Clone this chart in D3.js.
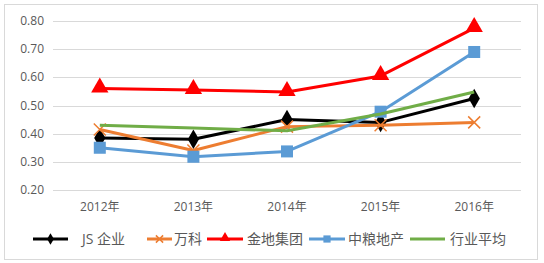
<!DOCTYPE html>
<html lang="zh">
<meta charset="utf-8">
<head>
    <script src="https://d3js.org/d3.v7.min.js"></script>
    <style type="text/css">
        body { margin: 0; background: #fff; }
        text { font-family: "Open Sans", "Noto Sans CJK SC", sans-serif; fill: #595959; }
    </style>
</head>
<body>
<div id="chart"></div>
<script>
var years = ["2012年", "2013年", "2014年", "2015年", "2016年"];
var yTicks = [0.20, 0.30, 0.40, 0.50, 0.60, 0.70, 0.80];

var names = ["JS 企业", "万科", "金地集团", "中粮地产", "行业平均"];
var jsValues     = [0.385, 0.38, 0.45, 0.44, 0.525];
var vankeValues  = [0.415, 0.34, 0.425, 0.43, 0.44];
var gemdaleValues = [0.56, 0.555, 0.548, 0.605, 0.775];
var cofcoValues  = [0.35, 0.318, 0.337, 0.478, 0.69];
var avgValues    = [0.43, 0.42, 0.41, 0.47, 0.548];

var colors  = ["#000000", "#ED7D31", "#FF0000", "#5B9BD5", "#70AD47"];
var markers = ["diamond", "cross", "triangle", "square", "none"];
var series = [jsValues, vankeValues, gemdaleValues, cofcoValues, avgValues];

var w = 544, h = 263;
var svg = d3.select("#chart").append("svg")
    .attr("width", w).attr("height", h);

// outer frame
svg.append("rect")
    .attr("x", 4.5).attr("y", 4.5)
    .attr("width", 533).attr("height", 255)
    .attr("fill", "#fff")
    .attr("stroke", "#d9d9d9");

var xScale = d3.scaleBand().domain(years).range([53, 521]);
var yScale = d3.scaleLinear().domain([0.2, 0.8]).range([190, 21]);

// grid
svg.selectAll("line.grid")
    .data(yTicks)
    .enter()
    .append("line")
    .attr("class", "grid")
    .attr("x1", 53).attr("x2", 521)
    .attr("y1", function(d) { return Math.round(yScale(d)) + 0.5; })
    .attr("y2", function(d) { return Math.round(yScale(d)) + 0.5; })
    .attr("stroke", "#d9d9d9");

// y labels
svg.selectAll("text.ylab")
    .data(yTicks)
    .enter()
    .append("text")
    .attr("x", 44)
    .attr("y", function(d) { return yScale(d) + 4; })
    .attr("text-anchor", "end")
    .attr("font-size", 12)
    .text(function(d) { return d.toFixed(2); });

// x labels
svg.selectAll("text.xlab")
    .data(years)
    .enter()
    .append("text")
    .attr("x", function(d) { return xScale(d) + xScale.bandwidth() / 2; })
    .attr("y", 211)
    .attr("text-anchor", "middle")
    .attr("font-size", 12)
    .text(function(d) { return d; });

function drawMarker(g, type, color, x, y, big) {
    var s = big ? 1 : 0.6;
    if (type == "diamond") {
        g.append("path")
            .attr("d", d3.symbol().type(d3.symbolDiamond).size(110 * s * s)())
            .attr("transform", "translate(" + x + "," + y + ")")
            .attr("fill", color);
    } else if (type == "square") {
        var a = 12 * s;
        g.append("rect")
            .attr("x", x - a / 2).attr("y", y - a / 2)
            .attr("width", a).attr("height", a)
            .attr("fill", color);
    } else if (type == "triangle") {
        g.append("path")
            .attr("d", d3.symbol().type(d3.symbolTriangle).size(130 * s * s)())
            .attr("transform", "translate(" + x + "," + (y - 1) + ")")
            .attr("fill", color);
    } else if (type == "cross") {
        var r = 6 * s;
        g.append("path")
            .attr("d", "M" + (x - r) + "," + (y - r) + "L" + (x + r) + "," + (y + r) +
                       "M" + (x - r) + "," + (y + r) + "L" + (x + r) + "," + (y - r))
            .attr("stroke", color)
            .attr("stroke-width", 1.5)
            .attr("fill", "none");
    }
}

var line = d3.line()
    .x(function(d, i) { return xScale(years[i]) + xScale.bandwidth() / 2; })
    .y(function(d) { return yScale(d); });

series.forEach(function(vals, k) {
    var g = svg.append("g");
    g.append("path")
        .datum(vals)
        .attr("d", line)
        .attr("fill", "none")
        .attr("stroke", colors[k])
        .attr("stroke-width", 3)
        .attr("stroke-linejoin", "round");
    vals.forEach(function(v, i) {
        drawMarker(g, markers[k], colors[k],
            xScale(years[i]) + xScale.bandwidth() / 2, yScale(v), true);
    });
});

// legend
var legendX = [33, 147, 207, 309, 410];
var legendLen = [35, 25, 36, 36, 35];
var legendText = [82, 174, 247, 348, 450];
var legendY = 239;
names.forEach(function(n, k) {
    var g = svg.append("g");
    var x0 = legendX[k];
    var len = legendLen[k];
    g.append("line")
        .attr("x1", x0).attr("x2", x0 + len)
        .attr("y1", legendY).attr("y2", legendY)
        .attr("stroke", colors[k])
        .attr("stroke-width", 3);
    drawMarker(g, markers[k], colors[k], x0 + len / 2, legendY, false);
    g.append("text")
        .attr("x", legendText[k])
        .attr("y", legendY + 5)
        .attr("font-size", 14)
        .text(n);
});
</script>
</body>
</html>
